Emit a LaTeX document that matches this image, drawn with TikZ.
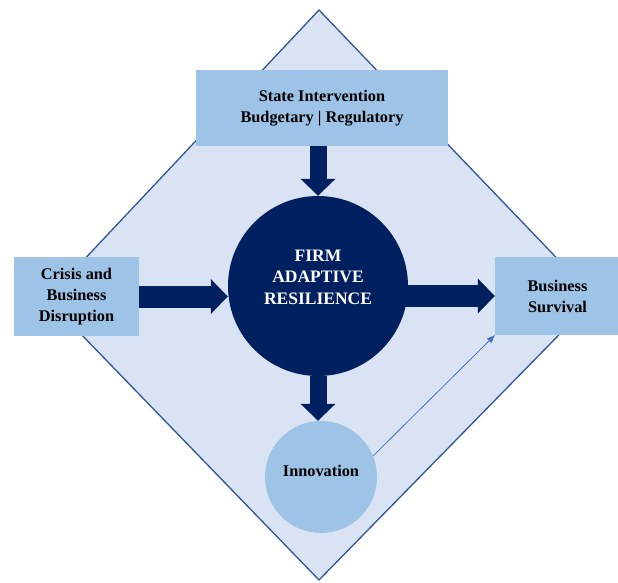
\documentclass[tikz,border=0pt]{standalone}
\usepackage{fontspec}
\setmainfont{Liberation Serif}
\usetikzlibrary{arrows.meta,calc}

\definecolor{fondlosange}{HTML}{DAE3F3}
\definecolor{bordlosange}{HTML}{2F5597}
\definecolor{bleuclair}{HTML}{9DC3E6}
\definecolor{marine}{HTML}{002060}
\definecolor{bleufleche}{HTML}{4472C4}

\tikzset{
  boite/.style={rectangle, fill=bleuclair, align=center, inner sep=0pt,
    minimum width=125pt, minimum height=79pt,
    font=\fontsize{16.3}{21}\selectfont\bfseries},
  bloc/.style={marine, -{Triangle[width=34pt,length=17pt]}},
}

\begin{document}
\begin{tikzpicture}[x=1pt,y=-1pt]
    \useasboundingbox (0,0) rectangle (618,583);

    % Losange de fond
    \filldraw[fill=fondlosange, draw=bordlosange, line width=1.3pt]
        (319,10) -- (595,298) -- (319,580) -- (47,299) -- cycle;

    % Les trois boites
    \node[boite, minimum width=252pt, minimum height=76pt] (state) at (322,108) {State Intervention\\Budgetary | Regulatory};
    \node[boite] (crisis) at (76.5,296.5) {Crisis and\\Business\\Disruption};
    \node[boite, minimum height=78pt] (survival) at (557.5,296) {Business\\Survival};

    % Cercles
    \node[circle, fill=marine, minimum size=180pt, inner sep=0pt] (firm) at (318,286) {};
    \node[text=white, align=center, font=\fontsize{17.5}{21.5}\selectfont\bfseries]
        at ($(firm)+(0,-9)$) {FIRM\\ADAPTIVE\\RESILIENCE};
    \node[circle, fill=bleuclair, minimum size=112pt, inner sep=0pt] (innov) at (321,477) {};
    \node[font=\fontsize{16.3}{21}\selectfont\bfseries] at ($(innov)+(0,-6)$) {Innovation};

    % Grosses fleches
    \draw[bloc, line width=17pt] (state.south -| firm.north) -- (firm.north);
    \draw[bloc, line width=22pt] (crisis.east) -- (crisis.east -| firm.west);
    \draw[bloc, line width=22pt] ($(firm.east |- survival.west)+(-4,0)$) -- (survival.west);
    \draw[bloc, line width=17pt] (firm.south) -- (firm.south |- innov.north);

    % Fleche fine vers la survie
    \draw[bleufleche, line width=0.8pt, -{Triangle[length=8pt,width=6pt]}] (innov.22) -- (survival.south west);
\end{tikzpicture}
\end{document}
